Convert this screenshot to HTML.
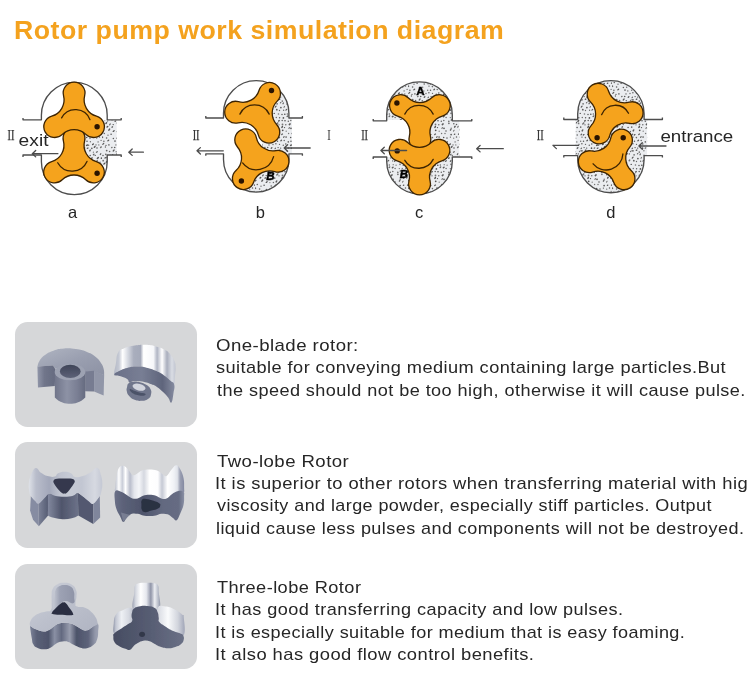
<!DOCTYPE html>
<html>
<head>
<meta charset="utf-8">
<title>Rotor pump work simulation diagram</title>
<style>
html,body{margin:0;padding:0;background:#fff;}
body{width:750px;height:677px;position:relative;overflow:hidden;font-family:"Liberation Sans",sans-serif;color:#1a1a1a;}
#title{will-change:transform;position:absolute;left:13.99px;top:12.58px;font-size:26.6px;font-weight:bold;color:#f4a21e;white-space:nowrap;line-height:34px;letter-spacing:0.5px;transform-origin:0 0;transform:scaleX(1.0039);}
.box{position:absolute;left:15.4px;width:181.4px;height:105.6px;background:#d6d7d9;border-radius:12.5px;}
.ln{will-change:transform;position:absolute;white-space:nowrap;font-size:17px;line-height:22px;height:22px;color:#262626;letter-spacing:0.4px;transform-origin:0 0;}
svg{position:absolute;left:0;top:0;will-change:transform;}
.lbl{position:absolute;white-space:nowrap;color:#222;}
</style>
</head>
<body>
<div id="title">Rotor pump work simulation diagram</div>

<!-- PUMPS -->
<svg id="pumps" width="750" height="240" viewBox="0 0 750 240">
<defs><pattern id="spk" width="51" height="51" patternUnits="userSpaceOnUse"><rect width="51" height="51" fill="#ebedf0"/><circle cx="1.0" cy="2.5" r="0.75" fill="#5a5a5a"/><path d="M3.0 5.1 l0.6 -0.5" stroke="#5c5c5c" stroke-width="1.35" stroke-linecap="round"/><circle cx="1.2" cy="7.7" r="0.90" fill="#747474"/><path d="M1.9 11.0 l0.9 -0.8" stroke="#505050" stroke-width="1.31" stroke-linecap="round"/><circle cx="0.6" cy="15.5" r="0.67" fill="#5c5c5c"/><circle cx="2.8" cy="18.6" r="0.70" fill="#5a5a5a"/><path d="M1.3 21.8 l0.7 -0.5" stroke="#686868" stroke-width="1.16" stroke-linecap="round"/><path d="M0.1 28.0 l0.9 -0.7" stroke="#5c5c5c" stroke-width="1.38" stroke-linecap="round"/><circle cx="2.3" cy="31.5" r="0.80" fill="#686868"/><path d="M0.0 35.5 l0.5 -0.4" stroke="#5c5c5c" stroke-width="1.49" stroke-linecap="round"/><circle cx="1.9" cy="39.2" r="0.75" fill="#5c5c5c"/><path d="M0.8 42.3 l0.9 -1.0" stroke="#5c5c5c" stroke-width="1.24" stroke-linecap="round"/><circle cx="3.4" cy="45.0" r="0.67" fill="#5a5a5a"/><circle cx="3.8" cy="1.3" r="0.84" fill="#686868"/><circle cx="5.1" cy="4.6" r="0.80" fill="#505050"/><path d="M4.2 9.3 l0.6 -0.8" stroke="#5a5a5a" stroke-width="1.28" stroke-linecap="round"/><circle cx="5.4" cy="12.1" r="0.82" fill="#5c5c5c"/><path d="M3.8 16.1 l0.4 -0.5" stroke="#5a5a5a" stroke-width="1.47" stroke-linecap="round"/><circle cx="5.5" cy="19.1" r="0.73" fill="#747474"/><path d="M3.9 21.5 l0.7 -0.8" stroke="#505050" stroke-width="1.40" stroke-linecap="round"/><path d="M5.1 25.0 l0.6 -0.5" stroke="#505050" stroke-width="1.49" stroke-linecap="round"/><circle cx="6.0" cy="33.2" r="0.65" fill="#5c5c5c"/><circle cx="4.6" cy="36.0" r="0.78" fill="#5c5c5c"/><path d="M5.9 38.8 l0.8 -0.7" stroke="#505050" stroke-width="1.20" stroke-linecap="round"/><circle cx="4.0" cy="43.4" r="0.64" fill="#5a5a5a"/><circle cx="4.7" cy="48.6" r="0.89" fill="#686868"/><circle cx="8.4" cy="2.4" r="0.74" fill="#505050"/><path d="M9.5 4.9 l0.5 -0.5" stroke="#5a5a5a" stroke-width="1.33" stroke-linecap="round"/><circle cx="7.5" cy="8.2" r="0.88" fill="#5a5a5a"/><circle cx="9.4" cy="11.9" r="0.76" fill="#686868"/><circle cx="7.2" cy="15.7" r="0.76" fill="#5a5a5a"/><path d="M10.0 18.5 l0.5 -0.9" stroke="#5a5a5a" stroke-width="1.12" stroke-linecap="round"/><path d="M7.6 22.8 l0.7 -0.9" stroke="#686868" stroke-width="1.21" stroke-linecap="round"/><path d="M10.0 25.3 l0.5 -0.6" stroke="#686868" stroke-width="1.33" stroke-linecap="round"/><path d="M6.9 28.1 l0.7 -1.0" stroke="#5c5c5c" stroke-width="1.52" stroke-linecap="round"/><circle cx="9.1" cy="32.3" r="0.81" fill="#5a5a5a"/><circle cx="6.9" cy="42.9" r="0.78" fill="#686868"/><path d="M9.6 45.7 l0.5 -0.4" stroke="#686868" stroke-width="1.14" stroke-linecap="round"/><circle cx="7.6" cy="49.5" r="0.80" fill="#686868"/><circle cx="10.6" cy="1.7" r="0.67" fill="#505050"/><circle cx="11.9" cy="4.6" r="0.84" fill="#5a5a5a"/><path d="M11.3 9.0 l1.0 -0.8" stroke="#5c5c5c" stroke-width="1.24" stroke-linecap="round"/><circle cx="12.6" cy="12.1" r="0.87" fill="#747474"/><circle cx="11.1" cy="15.9" r="0.72" fill="#686868"/><path d="M13.1 19.3 l0.9 -1.0" stroke="#505050" stroke-width="1.36" stroke-linecap="round"/><circle cx="11.2" cy="22.6" r="0.71" fill="#505050"/><path d="M11.2 29.4 l0.9 -0.7" stroke="#505050" stroke-width="1.29" stroke-linecap="round"/><circle cx="11.4" cy="36.4" r="0.75" fill="#5a5a5a"/><circle cx="13.0" cy="39.0" r="0.87" fill="#5a5a5a"/><circle cx="12.7" cy="45.5" r="0.82" fill="#5c5c5c"/><path d="M11.2 49.0 l0.9 -1.0" stroke="#5a5a5a" stroke-width="1.24" stroke-linecap="round"/><path d="M14.6 1.2 l0.6 -0.7" stroke="#5a5a5a" stroke-width="1.31" stroke-linecap="round"/><circle cx="14.6" cy="9.4" r="0.65" fill="#505050"/><path d="M14.3 16.1 l0.7 -0.6" stroke="#686868" stroke-width="1.49" stroke-linecap="round"/><path d="M16.9 19.5 l0.8 -1.0" stroke="#505050" stroke-width="1.30" stroke-linecap="round"/><path d="M15.0 21.2 l0.6 -0.8" stroke="#5c5c5c" stroke-width="1.15" stroke-linecap="round"/><circle cx="16.1" cy="25.5" r="0.78" fill="#5a5a5a"/><circle cx="14.9" cy="29.6" r="0.63" fill="#747474"/><circle cx="16.2" cy="33.0" r="0.77" fill="#5c5c5c"/><circle cx="14.7" cy="36.3" r="0.69" fill="#686868"/><circle cx="15.8" cy="39.9" r="0.68" fill="#5c5c5c"/><circle cx="14.0" cy="42.9" r="0.69" fill="#505050"/><path d="M16.2 46.3 l0.7 -0.6" stroke="#505050" stroke-width="1.15" stroke-linecap="round"/><circle cx="14.3" cy="49.7" r="0.80" fill="#686868"/><circle cx="17.3" cy="0.9" r="0.65" fill="#505050"/><path d="M20.2 5.1 l0.9 -1.0" stroke="#505050" stroke-width="1.14" stroke-linecap="round"/><path d="M17.2 7.7 l0.5 -0.6" stroke="#747474" stroke-width="1.51" stroke-linecap="round"/><circle cx="19.2" cy="11.4" r="0.72" fill="#505050"/><circle cx="17.8" cy="15.7" r="0.73" fill="#5c5c5c"/><circle cx="17.6" cy="21.4" r="0.86" fill="#747474"/><circle cx="19.7" cy="25.2" r="0.83" fill="#686868"/><circle cx="18.4" cy="29.5" r="0.73" fill="#686868"/><path d="M20.0 32.8 l0.6 -0.7" stroke="#5c5c5c" stroke-width="1.25" stroke-linecap="round"/><circle cx="19.7" cy="39.3" r="0.68" fill="#686868"/><circle cx="18.0" cy="42.6" r="0.73" fill="#747474"/><path d="M20.0 46.8 l0.5 -0.7" stroke="#5a5a5a" stroke-width="1.06" stroke-linecap="round"/><path d="M18.4 49.6 l0.9 -0.7" stroke="#686868" stroke-width="1.06" stroke-linecap="round"/><circle cx="22.1" cy="1.8" r="0.90" fill="#747474"/><circle cx="21.8" cy="7.7" r="0.88" fill="#5c5c5c"/><circle cx="23.5" cy="12.0" r="0.79" fill="#747474"/><circle cx="21.3" cy="15.5" r="0.72" fill="#686868"/><path d="M23.7 19.0 l0.5 -0.4" stroke="#505050" stroke-width="1.41" stroke-linecap="round"/><path d="M21.8 21.9 l1.0 -1.0" stroke="#747474" stroke-width="1.48" stroke-linecap="round"/><path d="M21.2 28.9 l0.5 -0.9" stroke="#5c5c5c" stroke-width="1.52" stroke-linecap="round"/><path d="M22.3 33.1 l0.7 -0.5" stroke="#505050" stroke-width="1.17" stroke-linecap="round"/><circle cx="21.0" cy="35.1" r="0.72" fill="#5c5c5c"/><circle cx="22.5" cy="39.2" r="0.74" fill="#5a5a5a"/><circle cx="20.9" cy="41.8" r="0.75" fill="#5a5a5a"/><circle cx="23.1" cy="45.6" r="0.70" fill="#5a5a5a"/><circle cx="20.9" cy="48.8" r="0.89" fill="#5a5a5a"/><path d="M25.4 0.9 l0.4 -0.4" stroke="#686868" stroke-width="1.08" stroke-linecap="round"/><circle cx="25.9" cy="5.6" r="0.88" fill="#5c5c5c"/><circle cx="24.5" cy="8.5" r="0.68" fill="#686868"/><circle cx="27.0" cy="12.4" r="0.75" fill="#5a5a5a"/><circle cx="24.6" cy="15.7" r="0.73" fill="#5c5c5c"/><circle cx="27.2" cy="18.4" r="0.77" fill="#5c5c5c"/><circle cx="24.0" cy="22.8" r="0.64" fill="#505050"/><path d="M26.9 25.4 l0.5 -0.8" stroke="#505050" stroke-width="1.45" stroke-linecap="round"/><path d="M26.7 32.6 l0.8 -0.6" stroke="#5c5c5c" stroke-width="1.19" stroke-linecap="round"/><circle cx="24.4" cy="35.6" r="0.79" fill="#686868"/><path d="M25.9 38.8 l0.6 -0.6" stroke="#5a5a5a" stroke-width="1.24" stroke-linecap="round"/><circle cx="24.5" cy="42.3" r="0.67" fill="#5a5a5a"/><circle cx="25.7" cy="46.1" r="0.67" fill="#505050"/><path d="M24.3 48.4 l0.6 -0.4" stroke="#5a5a5a" stroke-width="1.30" stroke-linecap="round"/><path d="M28.0 1.8 l0.4 -0.8" stroke="#5a5a5a" stroke-width="1.20" stroke-linecap="round"/><path d="M29.0 5.3 l0.5 -0.9" stroke="#747474" stroke-width="1.12" stroke-linecap="round"/><circle cx="28.6" cy="8.3" r="0.71" fill="#686868"/><circle cx="29.8" cy="12.3" r="0.82" fill="#505050"/><circle cx="28.4" cy="15.9" r="0.85" fill="#505050"/><circle cx="30.0" cy="18.7" r="0.82" fill="#505050"/><circle cx="27.5" cy="22.5" r="0.90" fill="#747474"/><circle cx="29.5" cy="25.6" r="0.70" fill="#505050"/><circle cx="27.7" cy="28.3" r="0.88" fill="#505050"/><path d="M28.6 35.4 l0.5 -0.8" stroke="#686868" stroke-width="1.15" stroke-linecap="round"/><circle cx="29.2" cy="38.5" r="0.70" fill="#5c5c5c"/><circle cx="28.3" cy="43.3" r="0.77" fill="#686868"/><circle cx="30.5" cy="46.2" r="0.84" fill="#505050"/><circle cx="27.3" cy="50.1" r="0.84" fill="#747474"/><circle cx="32.0" cy="2.2" r="0.64" fill="#5c5c5c"/><circle cx="33.8" cy="5.0" r="0.69" fill="#747474"/><path d="M30.9 8.2 l0.8 -0.8" stroke="#5a5a5a" stroke-width="1.18" stroke-linecap="round"/><circle cx="32.3" cy="12.0" r="0.67" fill="#5c5c5c"/><path d="M32.1 14.5 l0.7 -0.7" stroke="#5a5a5a" stroke-width="1.18" stroke-linecap="round"/><circle cx="33.3" cy="19.3" r="0.71" fill="#5c5c5c"/><circle cx="30.8" cy="22.7" r="0.68" fill="#5a5a5a"/><path d="M33.9 26.3 l0.6 -0.7" stroke="#747474" stroke-width="1.20" stroke-linecap="round"/><circle cx="31.2" cy="29.2" r="0.65" fill="#747474"/><circle cx="33.6" cy="31.6" r="0.74" fill="#747474"/><circle cx="31.1" cy="35.0" r="0.84" fill="#5c5c5c"/><circle cx="33.3" cy="39.9" r="0.83" fill="#686868"/><circle cx="30.8" cy="41.9" r="0.73" fill="#505050"/><path d="M33.2 46.3 l0.5 -0.5" stroke="#747474" stroke-width="1.21" stroke-linecap="round"/><circle cx="31.9" cy="48.7" r="0.73" fill="#747474"/><circle cx="35.9" cy="4.4" r="0.73" fill="#505050"/><circle cx="35.7" cy="7.9" r="0.68" fill="#5c5c5c"/><circle cx="36.2" cy="11.7" r="0.62" fill="#747474"/><path d="M35.4 14.8 l0.6 -0.6" stroke="#5a5a5a" stroke-width="1.52" stroke-linecap="round"/><circle cx="35.8" cy="18.5" r="0.76" fill="#686868"/><path d="M34.3 22.6 l0.8 -0.7" stroke="#5a5a5a" stroke-width="1.48" stroke-linecap="round"/><circle cx="36.0" cy="26.3" r="0.90" fill="#5c5c5c"/><circle cx="37.0" cy="31.6" r="0.75" fill="#747474"/><circle cx="35.7" cy="35.5" r="0.75" fill="#505050"/><circle cx="36.0" cy="39.2" r="0.77" fill="#505050"/><path d="M35.6 43.4 l1.0 -0.4" stroke="#5a5a5a" stroke-width="1.44" stroke-linecap="round"/><path d="M36.3 46.4 l0.7 -0.4" stroke="#5c5c5c" stroke-width="1.23" stroke-linecap="round"/><circle cx="39.2" cy="2.5" r="0.80" fill="#686868"/><path d="M40.6 5.3 l0.6 -0.4" stroke="#505050" stroke-width="1.36" stroke-linecap="round"/><path d="M37.6 8.3 l0.7 -0.6" stroke="#5c5c5c" stroke-width="1.21" stroke-linecap="round"/><circle cx="39.1" cy="12.2" r="0.66" fill="#747474"/><circle cx="38.1" cy="15.5" r="0.81" fill="#747474"/><circle cx="40.8" cy="19.3" r="0.86" fill="#747474"/><circle cx="38.0" cy="28.9" r="0.74" fill="#505050"/><circle cx="39.0" cy="36.1" r="0.79" fill="#686868"/><circle cx="39.4" cy="39.7" r="0.69" fill="#747474"/><circle cx="37.6" cy="43.2" r="0.77" fill="#747474"/><circle cx="40.8" cy="46.3" r="0.86" fill="#686868"/><path d="M38.8 48.8 l0.4 -0.7" stroke="#5a5a5a" stroke-width="1.41" stroke-linecap="round"/><path d="M42.4 1.8 l0.6 -0.6" stroke="#686868" stroke-width="1.27" stroke-linecap="round"/><path d="M42.3 8.3 l0.6 -0.7" stroke="#5a5a5a" stroke-width="1.22" stroke-linecap="round"/><circle cx="43.0" cy="11.3" r="0.84" fill="#747474"/><circle cx="42.3" cy="15.6" r="0.64" fill="#686868"/><path d="M43.3 18.1 l0.8 -0.5" stroke="#5a5a5a" stroke-width="1.47" stroke-linecap="round"/><circle cx="40.9" cy="21.4" r="0.82" fill="#686868"/><circle cx="43.2" cy="26.2" r="0.71" fill="#747474"/><path d="M42.4 28.2 l0.5 -0.8" stroke="#686868" stroke-width="1.38" stroke-linecap="round"/><circle cx="43.1" cy="32.6" r="0.87" fill="#5a5a5a"/><circle cx="42.4" cy="35.1" r="0.68" fill="#5c5c5c"/><path d="M41.6 42.6 l0.8 -0.7" stroke="#505050" stroke-width="1.31" stroke-linecap="round"/><path d="M43.4 45.3 l0.6 -0.7" stroke="#5c5c5c" stroke-width="1.52" stroke-linecap="round"/><circle cx="42.4" cy="50.2" r="0.63" fill="#747474"/><circle cx="44.2" cy="2.4" r="0.64" fill="#505050"/><path d="M46.4 5.4 l0.9 -0.8" stroke="#5a5a5a" stroke-width="1.43" stroke-linecap="round"/><path d="M45.5 8.6 l0.7 -0.8" stroke="#5c5c5c" stroke-width="1.34" stroke-linecap="round"/><circle cx="46.3" cy="12.3" r="0.82" fill="#686868"/><circle cx="45.2" cy="15.3" r="0.63" fill="#5a5a5a"/><circle cx="45.8" cy="21.8" r="0.79" fill="#5a5a5a"/><path d="M46.6 25.1 l0.5 -0.8" stroke="#505050" stroke-width="1.43" stroke-linecap="round"/><path d="M45.5 29.1 l0.6 -0.8" stroke="#747474" stroke-width="1.08" stroke-linecap="round"/><path d="M46.3 32.5 l0.6 -0.5" stroke="#5a5a5a" stroke-width="1.10" stroke-linecap="round"/><circle cx="45.7" cy="36.2" r="0.64" fill="#747474"/><circle cx="47.1" cy="39.9" r="0.66" fill="#5a5a5a"/><circle cx="45.0" cy="42.9" r="0.63" fill="#5c5c5c"/><circle cx="46.0" cy="46.0" r="0.75" fill="#505050"/><path d="M45.5 50.2 l0.7 -0.5" stroke="#686868" stroke-width="1.35" stroke-linecap="round"/><path d="M49.3 1.5 l0.5 -0.8" stroke="#5a5a5a" stroke-width="1.21" stroke-linecap="round"/><circle cx="50.5" cy="5.2" r="0.88" fill="#5a5a5a"/><circle cx="49.1" cy="9.3" r="0.68" fill="#747474"/><circle cx="49.8" cy="11.3" r="0.77" fill="#5c5c5c"/><circle cx="48.7" cy="15.8" r="0.75" fill="#747474"/><path d="M50.8 18.2 l0.6 -1.0" stroke="#505050" stroke-width="1.24" stroke-linecap="round"/><circle cx="48.5" cy="22.5" r="0.76" fill="#5a5a5a"/><path d="M49.7 25.2 l0.5 -0.9" stroke="#686868" stroke-width="1.13" stroke-linecap="round"/><circle cx="50.7" cy="32.2" r="0.86" fill="#747474"/><circle cx="48.5" cy="34.9" r="0.73" fill="#5c5c5c"/><circle cx="50.1" cy="38.4" r="0.68" fill="#747474"/><circle cx="47.8" cy="42.9" r="0.69" fill="#747474"/><path d="M49.6 45.5 l0.7 -0.6" stroke="#747474" stroke-width="1.39" stroke-linecap="round"/></pattern>
<clipPath id="clip_a"><path d="M41.4 115.2 A32.9 32.9 0 0 1 107.2 115.2 L107.2 161.8 A32.9 32.9 0 0 1 41.4 161.8 Z"/><rect x="41.4" y="119.8" width="75.3" height="35.2"/></clipPath>
<clipPath id="clip_b"><path d="M223.5 113.3 A32.7 32.7 0 0 1 288.9 113.3 L288.9 159.4 A32.7 32.7 0 0 1 223.5 159.4 Z"/><rect x="223.5" y="118.0" width="68.4" height="35.9"/></clipPath>
<clipPath id="clip_c"><path d="M386.7 114.7 A32.8 32.8 0 0 1 452.3 114.7 L452.3 161.2 A32.8 32.8 0 0 1 386.7 161.2 Z"/><rect x="386.7" y="120.8" width="72.6" height="36.2"/></clipPath>
<clipPath id="clip_d"><path d="M577.7 113.8 A33.2 33.2 0 0 1 644.1 113.8 L644.1 159.6 A33.2 33.2 0 0 1 577.7 159.6 Z"/><rect x="575.7" y="119.5" width="71.4" height="36.1"/></clipPath>
</defs>
<g clip-path="url(#clip_a)"><rect x="84" y="120.5" width="34" height="45" fill="url(#spk)"/></g>
<path d="M23.0 117.9 L23.0 119.8 L41.4 119.8 L41.4 115.2 A32.9 32.9 0 0 1 107.2 115.2 L107.2 119.8 L121.2 119.8 L121.2 117.9" fill="none" stroke="#4d4d4d" stroke-width="1.35" stroke-linejoin="round"/><path d="M23.0 156.9 L23.0 155.0 L41.4 155.0 L41.4 161.8 A32.9 32.9 0 0 0 107.2 161.8 L107.2 155.0 L121.2 155.0 L121.2 156.9" fill="none" stroke="#4d4d4d" stroke-width="1.35" stroke-linejoin="round"/>
<path d="M19.70 -10.56 A10.90 10.90 0 1 1 19.70 10.56 A16.87 16.87 0 0 0 -0.71 22.35 A10.90 10.90 0 1 1 -19.00 11.78 A16.87 16.87 0 0 0 -19.00 -11.78 A10.90 10.90 0 1 1 -0.71 -22.35 A16.87 16.87 0 0 0 19.70 -10.56Z" transform="translate(74.00 160.80) rotate(-90.0)" fill="#f5a31d" stroke="#3d2402" stroke-width="1.3"/><path d="M57.70 162.80 A16.43 16.43 0 0 0 87.00 161.40" fill="none" stroke="#3d2402" stroke-width="1.3" stroke-linecap="round"/><circle cx="97.10" cy="173.30" r="2.7" fill="#2a1400"/>
<path d="M19.70 -10.56 A10.90 10.90 0 1 1 19.70 10.56 A16.87 16.87 0 0 0 -0.71 22.35 A10.90 10.90 0 1 1 -19.00 11.78 A16.87 16.87 0 0 0 -19.00 -11.78 A10.90 10.90 0 1 1 -0.71 -22.35 A16.87 16.87 0 0 0 19.70 -10.56Z" transform="translate(74.10 115.40) rotate(-90.0)" fill="#f5a31d" stroke="#3d2402" stroke-width="1.3"/><path d="M61.60 117.90 A15.61 15.61 0 0 1 90.00 119.70" fill="none" stroke="#3d2402" stroke-width="1.3" stroke-linecap="round"/><circle cx="97.10" cy="126.80" r="2.7" fill="#2a1400"/>
<path d="M57.9 153.7 L32.3 153.7 M35.7 150.5 L32.3 153.7 M32.3 153.7 L35.7 156.9" fill="none" stroke="#4c4c4c" stroke-width="1.30" stroke-linecap="round" stroke-linejoin="round"/>
<path d="M143.4 152.2 L128.8 152.2 M132.2 149.0 L128.8 152.2 M128.8 152.2 L132.2 155.4" fill="none" stroke="#4c4c4c" stroke-width="1.30" stroke-linecap="round" stroke-linejoin="round"/>
<g clip-path="url(#clip_b)"><path d="M262 84 L300 84 L300 200 L236 200 L236 178 L262 150 Z" fill="url(#spk)"/></g>
<path d="M205.8 116.1 L205.8 118.0 L223.5 118.0 L223.5 113.3 A32.7 32.7 0 0 1 288.9 113.3 L288.9 118.0 L302.4 118.0 L302.4 116.1" fill="none" stroke="#4d4d4d" stroke-width="1.35" stroke-linejoin="round"/><path d="M205.8 155.8 L205.8 153.9 L223.5 153.9 L223.5 159.4 A32.7 32.7 0 0 0 288.9 159.4 L288.9 153.9 L302.4 153.9 L302.4 155.8" fill="none" stroke="#4d4d4d" stroke-width="1.35" stroke-linejoin="round"/>
<path d="M19.70 -10.56 A10.90 10.90 0 1 1 19.70 10.56 A16.87 16.87 0 0 0 -0.71 22.35 A10.90 10.90 0 1 1 -19.00 11.78 A16.87 16.87 0 0 0 -19.00 -11.78 A10.90 10.90 0 1 1 -0.71 -22.35 A16.87 16.87 0 0 0 19.70 -10.56Z" transform="translate(258.00 112.60) rotate(-59.0)" fill="#f5a31d" stroke="#3d2402" stroke-width="1.3"/><path d="M239.90 114.10 A16.26 16.26 0 0 1 269.20 114.10" fill="none" stroke="#3d2402" stroke-width="1.3" stroke-linecap="round"/><circle cx="271.50" cy="90.50" r="2.7" fill="#2a1400"/>
<path d="M19.70 -10.56 A10.90 10.90 0 1 1 19.70 10.56 A16.87 16.87 0 0 0 -0.71 22.35 A10.90 10.90 0 1 1 -19.00 11.78 A16.87 16.87 0 0 0 -19.00 -11.78 A10.90 10.90 0 1 1 -0.71 -22.35 A16.87 16.87 0 0 0 19.70 -10.56Z" transform="translate(255.70 159.90) rotate(3.5)" fill="#f5a31d" stroke="#3d2402" stroke-width="1.3"/><path d="M242.60 162.90 A17.63 17.63 0 0 0 273.60 156.70" fill="none" stroke="#3d2402" stroke-width="1.3" stroke-linecap="round"/><circle cx="241.40" cy="181.00" r="2.7" fill="#2a1400"/>
<path d="M223.3 150.8 L197.0 150.8 M200.4 147.6 L197.0 150.8 M197.0 150.8 L200.4 154.0" fill="none" stroke="#4c4c4c" stroke-width="1.30" stroke-linecap="round" stroke-linejoin="round"/>
<path d="M310.2 148.0 L284.2 148.0 M287.6 144.8 L284.2 148.0 M284.2 148.0 L287.6 151.2" fill="none" stroke="#4c4c4c" stroke-width="1.30" stroke-linecap="round" stroke-linejoin="round"/>
<g clip-path="url(#clip_c)"><path d="M380 70 L470 70 L470 200 L380 200 L380 157 L420 157 L420 120 L380 120 Z" fill="url(#spk)"/></g>
<path d="M373.2 118.9 L373.2 120.8 L386.7 120.8 L386.7 114.7 A32.8 32.8 0 0 1 452.3 114.7 L452.3 120.8 L471.8 120.8 L471.8 118.9" fill="none" stroke="#4d4d4d" stroke-width="1.35" stroke-linejoin="round"/><path d="M373.2 158.9 L373.2 157.0 L386.7 157.0 L386.7 161.2 A32.8 32.8 0 0 0 452.3 161.2 L452.3 157.0 L471.8 157.0 L471.8 158.9" fill="none" stroke="#4d4d4d" stroke-width="1.35" stroke-linejoin="round"/>
<path d="M19.70 -10.56 A10.90 10.90 0 1 1 19.70 10.56 A16.87 16.87 0 0 0 -0.71 22.35 A10.90 10.90 0 1 1 -19.00 11.78 A16.87 16.87 0 0 0 -19.00 -11.78 A10.90 10.90 0 1 1 -0.71 -22.35 A16.87 16.87 0 0 0 19.70 -10.56Z" transform="translate(419.90 116.80) rotate(-150.0)" fill="#f5a31d" stroke="#3d2402" stroke-width="1.3"/><path d="M404.80 114.10 A15.85 15.85 0 0 1 433.20 114.10" fill="none" stroke="#3d2402" stroke-width="1.3" stroke-linecap="round"/><circle cx="396.90" cy="103.00" r="2.7" fill="#2a1400"/>
<path d="M19.70 -10.56 A10.90 10.90 0 1 1 19.70 10.56 A16.87 16.87 0 0 0 -0.71 22.35 A10.90 10.90 0 1 1 -19.00 11.78 A16.87 16.87 0 0 0 -19.00 -11.78 A10.90 10.90 0 1 1 -0.71 -22.35 A16.87 16.87 0 0 0 19.70 -10.56Z" transform="translate(419.50 161.50) rotate(-150.0)" fill="#f5a31d" stroke="#3d2402" stroke-width="1.3"/><path d="M404.80 160.30 A16.23 16.23 0 0 0 433.20 159.40" fill="none" stroke="#3d2402" stroke-width="1.3" stroke-linecap="round"/><circle cx="397.20" cy="150.90" r="2.7" fill="#2a1400"/>
<path d="M406.6 150.5 L380.9 150.5 M384.3 147.3 L380.9 150.5 M380.9 150.5 L384.3 153.7" fill="none" stroke="#4c4c4c" stroke-width="1.30" stroke-linecap="round" stroke-linejoin="round"/>
<path d="M503.3 148.7 L476.7 148.7 M480.1 145.5 L476.7 148.7 M476.7 148.7 L480.1 151.9" fill="none" stroke="#4c4c4c" stroke-width="1.30" stroke-linecap="round" stroke-linejoin="round"/>
<g clip-path="url(#clip_d)"><rect x="570" y="70" width="90" height="130" fill="url(#spk)"/></g>
<path d="M563.8 117.6 L563.8 119.5 L577.7 119.5 L577.7 113.8 A33.2 33.2 0 0 1 644.1 113.8 L644.1 119.5 L662.4 119.5 L662.4 117.6" fill="none" stroke="#4d4d4d" stroke-width="1.35" stroke-linejoin="round"/><path d="M563.8 157.5 L563.8 155.6 L577.7 155.6 L577.7 159.6 A33.2 33.2 0 0 0 644.1 159.6 L644.1 155.6 L662.4 155.6 L662.4 157.5" fill="none" stroke="#4d4d4d" stroke-width="1.35" stroke-linejoin="round"/>
<path d="M19.70 -10.56 A10.90 10.90 0 1 1 19.70 10.56 A16.87 16.87 0 0 0 -0.71 22.35 A10.90 10.90 0 1 1 -19.00 11.78 A16.87 16.87 0 0 0 -19.00 -11.78 A10.90 10.90 0 1 1 -0.71 -22.35 A16.87 16.87 0 0 0 19.70 -10.56Z" transform="translate(609.80 113.30) rotate(-121.5)" fill="#f5a31d" stroke="#3d2402" stroke-width="1.3"/><path d="M601.60 114.70 A14.79 14.79 0 0 1 628.50 113.20" fill="none" stroke="#3d2402" stroke-width="1.3" stroke-linecap="round"/><circle cx="597.10" cy="137.70" r="2.7" fill="#2a1400"/>
<path d="M19.70 -10.56 A10.90 10.90 0 1 1 19.70 10.56 A16.87 16.87 0 0 0 -0.71 22.35 A10.90 10.90 0 1 1 -19.00 11.78 A16.87 16.87 0 0 0 -19.00 -11.78 A10.90 10.90 0 1 1 -0.71 -22.35 A16.87 16.87 0 0 0 19.70 -10.56Z" transform="translate(611.60 160.20) rotate(-63.8)" fill="#f5a31d" stroke="#3d2402" stroke-width="1.3"/><path d="M593.10 163.80 A16.80 16.80 0 0 0 622.90 154.00" fill="none" stroke="#3d2402" stroke-width="1.3" stroke-linecap="round"/><circle cx="623.20" cy="137.70" r="2.7" fill="#2a1400"/>
<path d="M578.5 145.4 L553.0 145.4 M553.0 145.4 L556.4 148.6" fill="none" stroke="#4c4c4c" stroke-width="1.30" stroke-linecap="round" stroke-linejoin="round"/>
<path d="M666.0 146.0 L638.9 146.0 M642.3 142.8 L638.9 146.0 M638.9 146.0 L642.3 149.2" fill="none" stroke="#4c4c4c" stroke-width="1.30" stroke-linecap="round" stroke-linejoin="round"/>
<text x="11.0" y="139.8" font-family="Liberation Serif" font-size="14.0" text-anchor="middle" font-weight="normal" font-style="normal" fill="#333" textLength="6.9" lengthAdjust="spacingAndGlyphs" stroke="#333" stroke-width="0.25">II</text>
<text x="196.1" y="139.9" font-family="Liberation Serif" font-size="14.0" text-anchor="middle" font-weight="normal" font-style="normal" fill="#333" textLength="6.9" lengthAdjust="spacingAndGlyphs" stroke="#333" stroke-width="0.25">II</text>
<text x="329.1" y="139.9" font-family="Liberation Serif" font-size="14.0" text-anchor="middle" font-weight="normal" font-style="normal" fill="#333" textLength="3.5" lengthAdjust="spacingAndGlyphs">I</text>
<text x="364.6" y="139.9" font-family="Liberation Serif" font-size="14.0" text-anchor="middle" font-weight="normal" font-style="normal" fill="#333" textLength="6.9" lengthAdjust="spacingAndGlyphs" stroke="#333" stroke-width="0.25">II</text>
<text x="540.3" y="139.8" font-family="Liberation Serif" font-size="14.0" text-anchor="middle" font-weight="normal" font-style="normal" fill="#333" textLength="6.9" lengthAdjust="spacingAndGlyphs" stroke="#333" stroke-width="0.25">II</text>
<text x="72.5" y="217.9" font-family="Liberation Sans" font-size="16.5" text-anchor="middle" font-weight="normal" font-style="normal" fill="#262626" >a</text>
<text x="260.4" y="217.9" font-family="Liberation Sans" font-size="16.5" text-anchor="middle" font-weight="normal" font-style="normal" fill="#262626" >b</text>
<text x="419.2" y="218.2" font-family="Liberation Sans" font-size="16.5" text-anchor="middle" font-weight="normal" font-style="normal" fill="#262626" >c</text>
<text x="610.8" y="217.5" font-family="Liberation Sans" font-size="16.5" text-anchor="middle" font-weight="normal" font-style="normal" fill="#262626" >d</text>
<text x="270.5" y="180.1" font-family="Liberation Sans" font-size="11.5" text-anchor="middle" font-weight="bold" font-style="italic" fill="#000" stroke="#000" stroke-width="0.45">B</text>
<text x="403.8" y="177.6" font-family="Liberation Sans" font-size="11.5" text-anchor="middle" font-weight="bold" font-style="italic" fill="#000" stroke="#000" stroke-width="0.45">B</text>
<text x="420.5" y="95.4" font-family="Liberation Sans" font-size="11.7" text-anchor="middle" font-weight="bold" font-style="normal" fill="#000" stroke="#000" stroke-width="0.3">A</text>
<text x="18.6" y="145.5" font-family="Liberation Sans" font-size="16.9" text-anchor="start" font-weight="normal" font-style="normal" fill="#262626" textLength="29.9" lengthAdjust="spacingAndGlyphs">exit</text>
<text x="660.4" y="142.3" font-family="Liberation Sans" font-size="16.9" text-anchor="start" font-weight="normal" font-style="normal" fill="#262626" textLength="72.9" lengthAdjust="spacingAndGlyphs">entrance</text>
</svg>

<div class="box" style="top:321.9px;height:105.4px"></div>
<div class="box" style="top:442.4px"></div>
<div class="box" style="top:563.8px"></div>

<!-- ROTORS -->
<svg id="rotors" width="210" height="677" viewBox="0 0 210 677">
<defs><filter id="soft" x="-5%" y="-5%" width="110%" height="110%"><feGaussianBlur stdDeviation="3.8"/></filter><linearGradient id="g1a" x1="0" y1="0" x2="1" y2="1"><stop offset="0" stop-color="#b0b5c2"/><stop offset="0.5" stop-color="#9a9fb0"/><stop offset="1" stop-color="#8d92a4"/></linearGradient><linearGradient id="g1b" x1="0" y1="0" x2="1" y2="0"><stop offset="0" stop-color="#9196a9"/><stop offset="0.4" stop-color="#70758a"/><stop offset="1" stop-color="#666b80"/></linearGradient><linearGradient id="g1c" x1="0" y1="0" x2="1" y2="0"><stop offset="0" stop-color="#70758a"/><stop offset="0.4" stop-color="#8d92a5"/><stop offset="0.75" stop-color="#797e93"/><stop offset="1" stop-color="#666b80"/></linearGradient><linearGradient id="g1d" x1="0" y1="0" x2="0" y2="1"><stop offset="0" stop-color="#3f4458"/><stop offset="1" stop-color="#5d6277"/></linearGradient><linearGradient id="g2a" x1="0" y1="0" x2="1" y2="0"><stop offset="0" stop-color="#b4b9c6"/><stop offset="0.08" stop-color="#c5c9d4"/><stop offset="0.14" stop-color="#ffffff"/><stop offset="0.22" stop-color="#d8dbe3"/><stop offset="0.32" stop-color="#a9aebd"/><stop offset="0.43" stop-color="#a5aaba"/><stop offset="0.48" stop-color="#ffffff"/><stop offset="0.64" stop-color="#f6f7fa"/><stop offset="0.7" stop-color="#b0b5c4"/><stop offset="0.78" stop-color="#ffffff"/><stop offset="0.86" stop-color="#a9aebd"/><stop offset="0.94" stop-color="#dadde4"/><stop offset="1" stop-color="#c0c4d0"/></linearGradient><linearGradient id="g2b" x1="0" y1="0" x2="1" y2="0"><stop offset="0" stop-color="#6a7088"/><stop offset="0.45" stop-color="#787e94"/><stop offset="0.8" stop-color="#5f657c"/><stop offset="1" stop-color="#858ba0"/></linearGradient><linearGradient id="g3a" x1="0" y1="0" x2="1" y2="0"><stop offset="0" stop-color="#dfe2e8"/><stop offset="0.1" stop-color="#b9bdcb"/><stop offset="0.28" stop-color="#a3a8ba"/><stop offset="0.42" stop-color="#bfc3cf"/><stop offset="0.55" stop-color="#c6cad5"/><stop offset="0.72" stop-color="#c2c6d2"/><stop offset="0.9" stop-color="#d6d9e1"/><stop offset="1" stop-color="#c4c8d4"/></linearGradient><linearGradient id="g3b" x1="0" y1="0" x2="1" y2="0"><stop offset="0" stop-color="#82889e"/><stop offset="0.45" stop-color="#4f556b"/><stop offset="1" stop-color="#6c7289"/></linearGradient><linearGradient id="g3c" x1="0" y1="0" x2="1" y2="0"><stop offset="0" stop-color="#7d8399"/><stop offset="1" stop-color="#565c73"/></linearGradient><linearGradient id="g4a" x1="0" y1="0" x2="1" y2="0"><stop offset="0" stop-color="#b5bac8"/><stop offset="0.06" stop-color="#ffffff"/><stop offset="0.11" stop-color="#c9cdd8"/><stop offset="0.155" stop-color="#ffffff"/><stop offset="0.22" stop-color="#b9bdcb"/><stop offset="0.28" stop-color="#e4e6ec"/><stop offset="0.35" stop-color="#f4f5f8"/><stop offset="0.42" stop-color="#d5d8e0"/><stop offset="0.5" stop-color="#ffffff"/><stop offset="0.62" stop-color="#fdfdfe"/><stop offset="0.68" stop-color="#c5c9d4"/><stop offset="0.76" stop-color="#ffffff"/><stop offset="0.85" stop-color="#f0f2f6"/><stop offset="0.9" stop-color="#e0e3ea"/><stop offset="0.94" stop-color="#9a9fb2"/><stop offset="1" stop-color="#8288a0"/></linearGradient><linearGradient id="g4b" x1="0" y1="0" x2="1" y2="0"><stop offset="0" stop-color="#6a7087"/><stop offset="0.12" stop-color="#5c6279"/><stop offset="0.4" stop-color="#4f556c"/><stop offset="0.7" stop-color="#636980"/><stop offset="0.92" stop-color="#666c83"/><stop offset="1" stop-color="#8a90a5"/></linearGradient><linearGradient id="g5a" x1="0" y1="0" x2="1" y2="1"><stop offset="0" stop-color="#cdd0d9"/><stop offset="0.5" stop-color="#bcc0cc"/><stop offset="1" stop-color="#b0b4c2"/></linearGradient><linearGradient id="g5b" x1="0" y1="0" x2="1" y2="0"><stop offset="0" stop-color="#7d8399"/><stop offset="0.1" stop-color="#5a6077"/><stop offset="0.27" stop-color="#4f556c"/><stop offset="0.36" stop-color="#8a90a4"/><stop offset="0.46" stop-color="#636980"/><stop offset="0.58" stop-color="#989dae"/><stop offset="0.68" stop-color="#4d536a"/><stop offset="0.85" stop-color="#5d637a"/><stop offset="0.95" stop-color="#9398aa"/><stop offset="1" stop-color="#9da2b3"/></linearGradient><linearGradient id="g5c" x1="0" y1="0" x2="1" y2="0"><stop offset="0" stop-color="#c4c8d2"/><stop offset="0.3" stop-color="#9da2b4"/><stop offset="1" stop-color="#8f94a7"/></linearGradient><linearGradient id="g6a" x1="0" y1="0" x2="1" y2="0"><stop offset="0" stop-color="#9ea3b4"/><stop offset="0.12" stop-color="#d5d8e0"/><stop offset="0.3" stop-color="#ffffff"/><stop offset="0.5" stop-color="#e6e8ee"/><stop offset="0.66" stop-color="#9095a8"/><stop offset="0.8" stop-color="#eceef2"/><stop offset="0.93" stop-color="#b4b9c6"/><stop offset="1" stop-color="#8d93a6"/></linearGradient><linearGradient id="g6b" x1="0" y1="0" x2="1" y2="0"><stop offset="0" stop-color="#8e94a7"/><stop offset="0.12" stop-color="#c2c6d2"/><stop offset="0.4" stop-color="#eef0f4"/><stop offset="0.75" stop-color="#d6d9e1"/><stop offset="1" stop-color="#b4b8c6"/></linearGradient><linearGradient id="g6c" x1="0" y1="0" x2="1" y2="0"><stop offset="0" stop-color="#d4d7df"/><stop offset="0.4" stop-color="#fafbfc"/><stop offset="0.75" stop-color="#d2d5dd"/><stop offset="1" stop-color="#a0a5b7"/></linearGradient><linearGradient id="g6d" x1="0" y1="0" x2="1" y2="0"><stop offset="0" stop-color="#474d62"/><stop offset="0.5" stop-color="#565c72"/><stop offset="1" stop-color="#6a7086"/></linearGradient></defs>
<g transform="translate(20 325) scale(0.132943)" filter="url(#soft)"><path d="M131.0 313.0 C135.0 302.0 132.7 291.0 147.0 269.0 C161.3 247.0 161.7 244.0 188.0 225.0 C214.3 206.0 216.0 205.0 252.0 193.0 C288.0 181.0 290.0 180.0 332.0 177.0 C374.0 174.0 378.0 175.0 420.0 181.0 C462.0 187.0 463.7 187.0 500.0 201.0 C536.3 215.0 537.7 216.0 565.0 237.0 C592.3 258.0 593.0 262.0 609.0 285.0 C625.0 308.0 623.0 305.7 629.0 329.0 C635.0 352.3 632.0 365.7 633.0 378.0 L557 350 L492 353 L380 300 L264 329 L248 305 Z" fill="url(#g1a)"/><path d="M131 313 L248 305 L266 332 L262 458 L135 470 Z" fill="url(#g1b)"/><path d="M490 350 L557 345 L557 500 L490 498Z" fill="#777c91"/><path d="M557 345 L633 376 L629 530 L557 500Z" fill="#9196a8"/><path d="M262 355 L262 546 C300 585 340 593 376 593 C412 593 452 585 491 546 L491 355 Z" fill="url(#g1c)"/><ellipse cx="376" cy="354" rx="115" ry="62" fill="#9da2b2"/><ellipse cx="378" cy="349" rx="78" ry="50" fill="url(#g1d)"/></g>
<g transform="translate(105 325) scale(0.132943)" filter="url(#soft)"><path d="M98.0 209.0 C113.0 181.0 113.0 190.0 142.0 177.0 C171.0 164.0 174.0 164.0 214.0 157.0 C254.0 150.0 259.7 148.0 302.0 149.0 C344.3 150.0 346.7 152.0 383.0 161.0 C419.3 170.0 419.0 169.0 447.0 185.0 C475.0 201.0 476.0 203.0 495.0 225.0 C514.0 247.0 514.0 249.0 523.0 273.0 C532.0 297.0 530.0 294.7 531.0 321.0 C532.0 347.3 530.0 345.7 527.0 378.0 C524.0 410.3 527.0 439.0 519.0 450.0 C511.0 461.0 513.0 439.0 495.0 422.0 C477.0 405.0 475.0 401.3 447.0 382.0 C419.0 362.7 417.3 360.3 383.0 345.0 C348.7 329.7 346.3 329.0 310.0 321.0 C273.7 313.0 274.0 312.5 238.0 313.0 C202.0 313.5 198.0 315.0 166.0 323.0 C134.0 331.0 134.0 332.2 110.0 345.0 C86.0 357.8 77.0 388.0 70.0 374.0 C63.0 360.0 75.0 330.3 82.0 289.0 C89.0 247.7 83.0 237.0 98.0 209.0Z" fill="url(#g2a)"/><path d="M70.0 374.0 C68.0 363.7 86.0 357.8 110.0 345.0 C134.0 332.2 134.0 331.0 166.0 323.0 C198.0 315.0 202.0 313.5 238.0 313.0 C274.0 312.5 273.7 313.0 310.0 321.0 C346.3 329.0 348.7 329.7 383.0 345.0 C417.3 360.3 419.0 362.7 447.0 382.0 C475.0 401.3 476.5 405.0 495.0 422.0 C513.5 439.0 516.0 427.0 521.0 450.0 C526.0 473.0 520.5 480.5 515.0 514.0 C509.5 547.5 509.0 576.0 499.0 584.0 C489.0 592.0 490.0 565.5 475.0 546.0 C460.0 526.5 460.0 526.0 439.0 506.0 C418.0 486.0 413.3 481.0 391.0 466.0 C368.7 451.0 372.3 455.0 350.0 446.0 C327.7 437.0 334.0 436.0 302.0 430.0 C270.0 424.0 251.0 421.5 222.0 422.0 C193.0 422.5 200.0 436.0 186.0 432.0 C172.0 428.0 183.0 417.5 166.0 406.0 C149.0 394.5 142.0 394.0 118.0 386.0 C94.0 378.0 72.0 384.3 70.0 374.0Z" fill="url(#g2b)"/><path d="M166.0 466.0 C169.5 451.0 167.0 448.0 178.0 438.0 C189.0 428.0 189.0 428.0 210.0 426.0 C231.0 424.0 237.0 424.0 262.0 430.0 C287.0 436.0 290.0 437.0 310.0 450.0 C330.0 463.0 333.0 464.0 342.0 482.0 C351.0 500.0 350.0 504.0 346.0 522.0 C342.0 540.0 343.0 542.0 326.0 554.0 C309.0 566.0 304.0 568.0 278.0 570.0 C252.0 572.0 246.0 571.0 222.0 562.0 C198.0 553.0 196.5 550.0 182.0 534.0 C167.5 518.0 168.0 515.0 164.0 498.0 C160.0 481.0 162.5 481.0 166.0 466.0Z" fill="#70768c"/><ellipse cx="256" cy="468" rx="50" ry="25" transform="rotate(14 256 468)" fill="#d2d5de"/><path d="M186.0 484.0 C188.5 479.0 196.5 486.0 215.0 492.0 C233.5 498.0 238.7 502.0 260.0 508.0 C281.3 514.0 291.0 510.5 300.0 516.0 C309.0 521.5 308.5 527.0 296.0 530.0 C283.5 533.0 272.8 532.5 250.0 528.0 C227.2 523.5 221.0 523.0 205.0 512.0 C189.0 501.0 183.5 489.0 186.0 484.0Z" fill="#4c5268"/></g>
<g transform="translate(20 450) scale(0.132943)" filter="url(#soft)"><path d="M82 345 L138 402 L142 573 L98 524 L76 455 Z" fill="#868ca2"/><path d="M138 402 L212 328 L210 494 L142 573 Z" fill="url(#g3c)"/><path d="M210 328 L435 322 L439 492 C410 512 370 520 334 520 C300 520 240 512 210 492 Z" fill="url(#g3b)"/><path d="M435 322 L551 402 L551 557 L439 492 Z" fill="#52586f"/><path d="M551 402 L600 346 L603 508 L551 557 Z" fill="#80869c"/><path d="M118.0 135.0 C134.0 131.4 139.5 158.2 158.0 171.0 C176.5 183.8 184.2 189.9 206.0 196.0 C227.8 202.1 245.2 204.4 262.0 200.0 C278.8 195.6 270.9 182.8 286.0 175.0 C301.1 167.2 313.6 163.0 334.0 163.0 C354.4 163.0 366.0 166.4 383.0 175.0 C400.0 183.6 396.5 199.6 415.0 204.0 C433.5 208.4 447.5 202.9 471.0 196.0 C494.5 189.1 503.5 183.8 527.0 171.0 C550.5 158.2 565.4 129.7 583.0 135.0 C600.6 140.3 603.4 169.7 611.0 196.0 C618.6 222.3 619.0 234.8 619.0 260.0 C619.0 285.2 615.2 297.5 611.0 316.0 C606.8 334.5 611.6 329.5 599.0 348.0 C586.4 366.5 567.8 395.6 551.0 404.0 C534.2 412.4 535.8 399.8 519.0 388.0 C502.2 376.2 488.6 361.4 471.0 348.0 C453.4 334.6 450.1 324.8 435.0 324.0 C419.9 323.2 420.2 338.1 399.0 344.0 C377.8 349.9 362.8 352.0 334.0 352.0 C305.2 352.0 285.5 349.9 262.0 344.0 C238.5 338.1 232.9 326.5 222.0 324.0 C211.1 321.5 220.1 321.9 210.0 332.0 C199.9 342.1 189.1 356.9 174.0 372.0 C158.9 387.1 150.6 401.5 138.0 404.0 C125.4 406.5 125.8 395.8 114.0 384.0 C102.2 372.2 91.2 362.3 82.0 348.0 C72.8 333.7 73.4 336.2 70.0 316.0 C66.6 295.8 63.5 278.9 66.0 252.0 C68.5 225.1 71.1 212.6 82.0 188.0 C92.9 163.4 102.0 138.6 118.0 135.0Z" fill="url(#g3a)"/><path d="M254.0 228.0 C258.0 220.0 262.0 218.8 278.0 216.0 C294.0 213.2 311.4 214.0 334.0 214.0 C356.6 214.0 375.6 212.4 391.0 216.0 C406.4 219.6 408.6 224.0 411.0 232.0 C413.4 240.0 413.4 239.2 403.0 256.0 C392.6 272.8 372.8 301.6 359.0 316.0 C345.2 330.4 344.6 328.0 334.0 328.0 C323.4 328.0 321.2 330.4 306.0 316.0 C290.8 301.6 268.4 273.6 258.0 256.0 C247.6 238.4 250.0 236.0 254.0 228.0Z" fill="#34394d"/></g>
<g transform="translate(105 450) scale(0.132943)" filter="url(#soft)"><path d="M102.0 139.0 C112.9 121.1 122.9 117.3 138.0 119.0 C153.1 120.7 159.7 132.5 174.0 147.0 C188.3 161.5 192.6 181.1 206.0 188.0 C219.4 194.9 222.9 186.9 238.0 180.0 C253.1 173.1 257.8 161.9 278.0 155.0 C298.2 148.1 310.3 147.0 334.0 147.0 C357.7 147.0 370.6 148.1 391.0 155.0 C411.4 161.9 415.9 171.4 431.0 180.0 C446.1 188.6 449.6 201.3 463.0 196.0 C476.4 190.7 479.9 172.0 495.0 155.0 C510.1 138.0 519.9 116.7 535.0 115.0 C550.1 113.3 555.2 126.6 567.0 147.0 C578.8 167.4 585.1 183.2 591.0 212.0 C596.9 240.8 595.0 261.3 595.0 284.0 C595.0 306.7 600.2 314.1 591.0 320.0 C581.8 325.9 569.5 308.6 551.0 312.0 C532.5 315.4 521.5 324.2 503.0 336.0 C484.5 347.8 479.8 361.3 463.0 368.0 C446.2 374.7 439.8 372.2 423.0 368.0 C406.2 363.8 401.7 353.9 383.0 348.0 C364.3 342.1 354.4 340.0 334.0 340.0 C313.6 340.0 304.5 342.1 286.0 348.0 C267.5 353.9 262.8 363.8 246.0 368.0 C229.2 372.2 222.8 373.0 206.0 368.0 C189.2 363.0 182.8 354.1 166.0 344.0 C149.2 333.9 144.5 327.1 126.0 320.0 C107.5 312.9 88.1 319.2 78.0 310.0 C67.9 300.8 76.3 298.3 78.0 276.0 C79.7 253.7 81.0 232.8 86.0 204.0 C91.0 175.2 91.1 156.9 102.0 139.0Z" fill="url(#g4a)"/><path d="M78.0 308.0 C88.9 294.6 107.5 309.3 126.0 316.0 C144.5 322.7 149.2 329.9 166.0 340.0 C182.8 350.1 189.2 359.0 206.0 364.0 C222.8 369.0 229.2 368.2 246.0 364.0 C262.8 359.8 267.5 349.9 286.0 344.0 C304.5 338.1 313.6 336.0 334.0 336.0 C354.4 336.0 364.3 338.1 383.0 344.0 C401.7 349.9 406.2 359.8 423.0 364.0 C439.8 368.2 446.2 370.7 463.0 364.0 C479.8 357.3 484.5 343.8 503.0 332.0 C521.5 320.2 532.5 311.4 551.0 308.0 C569.5 304.6 581.8 307.6 591.0 316.0 C600.2 324.4 595.0 327.8 595.0 348.0 C595.0 368.2 596.9 385.1 591.0 412.0 C585.1 438.9 577.9 451.4 567.0 476.0 C556.1 500.6 550.8 521.4 539.0 529.0 C527.2 536.6 525.3 521.5 511.0 512.0 C496.7 502.5 489.5 490.7 471.0 484.0 C452.5 477.3 441.5 478.3 423.0 480.0 C404.5 481.7 401.7 488.6 383.0 492.0 C364.3 495.4 354.4 496.0 334.0 496.0 C313.6 496.0 304.5 495.4 286.0 492.0 C267.5 488.6 263.6 482.5 246.0 480.0 C228.4 477.5 218.8 474.1 202.0 480.0 C185.2 485.9 179.4 495.2 166.0 508.0 C152.6 520.8 148.9 542.7 138.0 541.0 C127.1 539.3 124.9 520.4 114.0 500.0 C103.1 479.6 94.4 469.2 86.0 444.0 C77.6 418.8 75.7 408.6 74.0 380.0 C72.3 351.4 67.1 321.4 78.0 308.0Z" fill="url(#g4b)"/><path d="M138 541 L166 508 L190 488 L120 470 Z" fill="#9095a8" opacity="0.55"/><path d="M278.0 376.0 C287.0 365.0 289.7 367.0 310.0 368.0 C330.3 369.0 334.7 372.0 359.0 380.0 C383.3 388.0 393.0 390.0 407.0 400.0 C421.0 410.0 417.0 410.0 415.0 420.0 C413.0 430.0 415.3 431.0 399.0 440.0 C382.7 449.0 374.3 449.0 350.0 456.0 C325.7 463.0 320.0 469.0 302.0 468.0 C284.0 467.0 285.0 466.0 278.0 452.0 C271.0 438.0 274.0 431.0 274.0 412.0 C274.0 393.0 269.0 387.0 278.0 376.0Z" fill="#2b3043"/></g>
<g transform="translate(20 570) scale(0.132943)" filter="url(#soft)"><path d="M75.0 410.0 C75.0 390.0 74.5 419.0 88.0 429.0 C101.5 439.0 106.2 441.5 129.0 450.0 C151.8 458.5 156.0 463.0 179.0 463.0 C202.0 463.0 202.2 459.5 221.0 450.0 C239.8 440.5 237.2 436.5 254.0 425.0 C270.8 413.5 267.0 411.3 288.0 404.0 C309.0 396.7 313.0 396.0 338.0 396.0 C363.0 396.0 365.2 396.7 388.0 404.0 C410.8 411.3 408.2 413.5 429.0 425.0 C449.8 436.5 452.2 442.7 471.0 450.0 C489.8 457.3 487.2 458.0 504.0 454.0 C520.8 450.0 518.0 446.3 538.0 434.0 C558.0 421.7 571.5 396.7 584.0 405.0 C596.5 413.3 589.3 437.0 588.0 467.0 C586.7 497.0 587.5 501.0 579.0 525.0 C570.5 549.0 572.8 547.2 554.0 563.0 C535.2 578.8 529.0 582.7 504.0 588.0 C479.0 593.3 479.0 590.3 454.0 584.0 C429.0 577.7 426.8 573.5 404.0 563.0 C381.2 552.5 383.8 548.3 363.0 542.0 C342.2 535.7 342.0 536.0 321.0 538.0 C300.0 540.0 302.0 538.5 279.0 550.0 C256.0 561.5 254.0 572.5 229.0 584.0 C204.0 595.5 204.0 596.0 179.0 596.0 C154.0 596.0 148.8 593.3 129.0 584.0 C109.2 574.7 110.3 577.8 100.0 559.0 C89.7 540.2 94.3 546.3 88.0 509.0 C81.7 471.7 75.0 430.0 75.0 410.0Z" fill="url(#g5b)"/><path d="M238.0 184.0 C240.0 159.0 235.7 160.8 246.0 142.0 C256.3 123.2 258.2 120.5 279.0 109.0 C299.8 97.5 301.7 96.0 329.0 96.0 C356.3 96.0 365.0 95.5 388.0 109.0 C411.0 122.5 411.7 127.2 421.0 150.0 C430.3 172.8 426.0 175.0 425.0 200.0 C424.0 225.0 416.0 231.2 417.0 250.0 C418.0 268.8 411.2 266.5 429.0 275.0 C446.8 283.5 460.7 273.5 488.0 284.0 C515.3 294.5 517.2 298.2 538.0 317.0 C558.8 335.8 559.5 338.2 571.0 359.0 C582.5 379.8 580.7 387.5 584.0 400.0 C587.3 412.5 595.5 400.5 584.0 409.0 C572.5 417.5 558.0 422.7 538.0 434.0 C518.0 445.3 520.8 450.0 504.0 454.0 C487.2 458.0 489.8 457.3 471.0 450.0 C452.2 442.7 449.8 436.5 429.0 425.0 C408.2 413.5 410.8 411.3 388.0 404.0 C365.2 396.7 363.0 396.0 338.0 396.0 C313.0 396.0 309.0 396.7 288.0 404.0 C267.0 411.3 270.8 413.5 254.0 425.0 C237.2 436.5 239.8 440.5 221.0 450.0 C202.2 459.5 202.0 463.0 179.0 463.0 C156.0 463.0 151.8 458.5 129.0 450.0 C106.2 441.5 101.5 437.3 88.0 429.0 C74.5 420.7 77.3 428.3 75.0 417.0 C72.7 405.7 71.7 400.8 79.0 384.0 C86.3 367.2 87.2 364.8 104.0 350.0 C120.8 335.2 123.0 334.3 146.0 325.0 C169.0 315.7 174.2 319.3 196.0 313.0 C217.8 306.7 222.5 317.8 233.0 300.0 C243.5 282.2 236.7 271.0 238.0 242.0 C239.3 213.0 236.0 209.0 238.0 184.0Z" fill="url(#g5a)"/><path d="M262.0 190.0 C264.5 152.5 259.7 167.0 268.0 150.0 C276.3 133.0 278.2 131.5 295.0 122.0 C311.8 112.5 313.7 111.5 335.0 112.0 C356.3 112.5 362.7 112.5 380.0 124.0 C397.3 135.5 397.0 137.7 404.0 158.0 C411.0 178.3 409.0 182.0 408.0 205.0 C407.0 228.0 419.8 242.2 400.0 250.0 C380.2 257.8 364.5 223.5 329.0 236.0 C293.5 248.5 274.8 311.5 258.0 300.0 C241.2 288.5 259.5 227.5 262.0 190.0Z" fill="url(#g5c)"/><path d="M329.0 244.0 C337.8 244.0 333.5 238.5 345.0 250.0 C356.5 261.5 361.7 271.0 375.0 290.0 C388.3 309.0 394.7 313.5 398.0 326.0 C401.3 338.5 407.5 337.5 388.0 340.0 C368.5 342.5 354.0 338.0 320.0 336.0 C286.0 334.0 271.5 336.5 252.0 332.0 C232.5 327.5 237.5 329.8 242.0 318.0 C246.5 306.2 253.0 302.0 270.0 285.0 C287.0 268.0 295.2 260.3 310.0 250.0 C324.8 239.7 320.2 244.0 329.0 244.0Z" fill="#2a2f42"/></g>
<g transform="translate(105 570) scale(0.132943)" filter="url(#soft)"><path d="M221.0 170.0 C223.6 134.0 219.6 133.8 225.0 120.0 C230.4 106.2 230.6 105.8 248.0 101.0 C265.4 96.2 286.0 96.0 312.0 96.0 C338.0 96.0 360.2 96.2 378.0 101.0 C395.8 105.8 395.6 106.2 401.0 120.0 C406.4 133.8 403.6 134.0 405.0 170.0 C406.4 206.0 427.0 268.0 408.0 300.0 C389.0 332.0 349.2 330.0 310.0 330.0 C270.8 330.0 229.8 332.0 212.0 300.0 C194.2 268.0 218.4 206.0 221.0 170.0Z" fill="url(#g6a)"/><path d="M83.0 334.0 C98.8 310.0 100.7 316.0 129.0 304.0 C157.3 292.0 174.5 279.5 196.0 286.0 C217.5 292.5 211.5 304.0 215.0 330.0 C218.5 356.0 221.0 369.5 210.0 390.0 C199.0 410.5 193.3 398.2 171.0 412.0 C148.7 425.8 146.0 428.5 121.0 445.0 C96.0 461.5 84.8 489.3 71.0 478.0 C57.2 466.7 63.0 436.0 66.0 400.0 C69.0 364.0 67.2 358.0 83.0 334.0Z" fill="url(#g6b)"/><path d="M396.0 288.0 C408.3 258.0 422.7 273.0 454.0 275.0 C485.3 277.0 489.7 281.2 521.0 296.0 C552.3 310.8 561.0 318.0 579.0 334.0 C597.0 350.0 590.2 319.7 593.0 360.0 C595.8 400.3 610.0 469.5 590.0 495.0 C570.0 520.5 547.0 478.8 513.0 462.0 C479.0 445.2 481.0 444.8 454.0 428.0 C427.0 411.2 419.5 430.0 405.0 395.0 C390.5 360.0 383.7 318.0 396.0 288.0Z" fill="url(#g6c)"/><path d="M204.0 317.0 C208.3 302.5 204.5 302.5 217.0 292.0 C229.5 281.5 230.0 280.3 254.0 275.0 C278.0 269.7 283.7 268.7 313.0 271.0 C342.3 273.3 350.2 272.5 371.0 284.0 C391.8 295.5 387.7 298.2 396.0 317.0 C404.3 335.8 400.7 340.2 404.0 359.0 C407.3 377.8 396.5 375.5 409.0 392.0 C421.5 408.5 428.0 408.2 454.0 425.0 C480.0 441.8 483.7 445.5 513.0 459.0 C542.3 472.5 552.2 470.7 571.0 479.0 C589.8 487.3 582.7 480.5 588.0 492.0 C593.3 503.5 596.3 508.2 592.0 525.0 C587.7 541.8 586.8 545.5 571.0 559.0 C555.2 572.5 554.0 571.7 529.0 579.0 C504.0 586.3 500.0 589.0 471.0 588.0 C442.0 587.0 438.0 583.5 413.0 575.0 C388.0 566.5 392.0 564.3 371.0 554.0 C350.0 543.7 349.8 539.5 329.0 534.0 C308.2 528.5 308.8 528.0 288.0 532.0 C267.2 536.0 264.8 539.2 246.0 550.0 C227.2 560.8 227.5 562.5 213.0 575.0 C198.5 587.5 202.8 595.7 188.0 600.0 C173.2 604.3 175.0 599.3 154.0 592.0 C133.0 584.7 124.8 583.5 104.0 571.0 C83.2 558.5 81.3 559.8 71.0 542.0 C60.7 524.2 63.0 516.8 63.0 500.0 C63.0 483.2 56.5 489.5 71.0 475.0 C85.5 460.5 96.0 458.5 121.0 442.0 C146.0 425.5 150.2 423.5 171.0 409.0 C191.8 394.5 196.7 398.8 204.0 384.0 C211.3 369.2 200.0 366.8 200.0 350.0 C200.0 333.2 199.7 331.5 204.0 317.0Z" fill="url(#g6d)"/><ellipse cx="279" cy="484" rx="22" ry="20" fill="#32374a"/></g>
</svg>

<!--TEXT_START-->
<div class="ln" id="l1" style="left:216.00px;top:335.31px;transform:scaleX(1.0961)">One-blade rotor:</div>
<div class="ln" id="l2" style="left:216.03px;top:357.31px;transform:scaleX(1.0701)">suitable for conveying medium containing large particles.But</div>
<div class="ln" id="l3" style="left:217.00px;top:379.61px;transform:scaleX(1.0656)">the speed should not be too high, otherwise it will cause pulse.</div>
<div class="ln" id="l4" style="left:216.70px;top:450.81px;transform:scaleX(1.0933)">Two-lobe Rotor</div>
<div class="ln" id="l5" style="left:215.14px;top:473.01px;transform:scaleX(1.0810)">It is superior to other rotors when transferring material with hig</div>
<div class="ln" id="l6" style="left:217.00px;top:495.41px;transform:scaleX(1.0582)">viscosity and large powder, especially stiff particles. Output</div>
<div class="ln" id="l7" style="left:216.44px;top:517.61px;transform:scaleX(1.0604)">liquid cause less pulses and components will not be destroyed.</div>
<div class="ln" id="l8" style="left:216.70px;top:576.61px;transform:scaleX(1.0701)">Three-lobe Rotor</div>
<div class="ln" id="l9" style="left:215.17px;top:599.11px;transform:scaleX(1.0652)">It has good transferring capacity and low pulses.</div>
<div class="ln" id="l10" style="left:215.18px;top:621.51px;transform:scaleX(1.0622)">It is especially suitable for medium that is easy foaming.</div>
<div class="ln" id="l11" style="left:215.14px;top:643.61px;transform:scaleX(1.0814)">It also has good flow control benefits.</div>
<!--TEXT_END-->
</body>
</html>
